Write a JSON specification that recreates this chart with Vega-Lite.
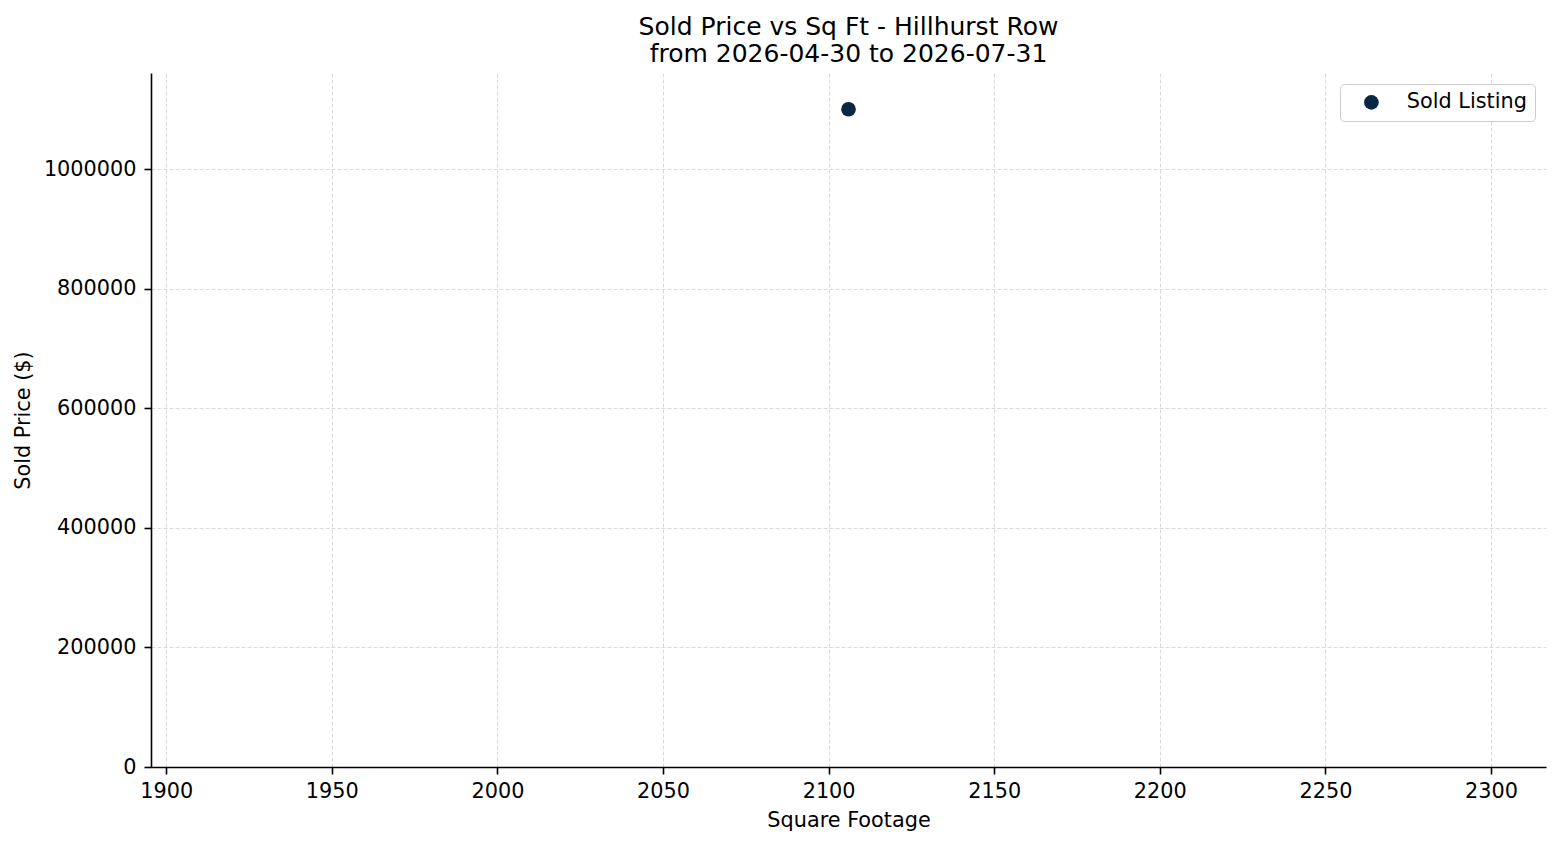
{
  "$schema": "https://vega.github.io/schema/vega-lite/v6.json",
  "width": 1395,
  "height": 694,
  "autosize": "none",
  "padding": {"left": 151, "top": 73, "right": 14, "bottom": 78},
  "background": "white",
  "title": {
    "text": ["Sold Price vs Sq Ft - Hillhurst Row", "from 2026-04-30 to 2026-07-31"],
    "anchor": "middle",
    "font": "DejaVu Sans",
    "fontSize": 25,
    "fontWeight": "normal",
    "color": "black",
    "lineHeight": 27,
    "offset": 6
  },
  "data": {
    "values": [
      {"sqft": 2106, "price": 1100000, "type": "Sold Listing"}
    ]
  },
  "mark": {"type": "circle", "size": 215, "opacity": 1},
  "encoding": {
    "x": {
      "field": "sqft",
      "type": "quantitative",
      "title": "Square Footage",
      "scale": {"domain": [1895.4, 2316.6], "nice": false, "zero": false},
      "axis": {"values": [1900, 1950, 2000, 2050, 2100, 2150, 2200, 2250, 2300], "format": "d"}
    },
    "y": {
      "field": "price",
      "type": "quantitative",
      "title": "Sold Price ($)",
      "scale": {"domain": [0, 1160700], "nice": false},
      "axis": {"values": [0, 200000, 400000, 600000, 800000, 1000000], "format": "d"}
    },
    "color": {
      "field": "type",
      "type": "nominal",
      "scale": {"range": ["#0b2545"]},
      "legend": {"title": null, "orient": "none", "legendX": 1189, "legendY": 11}
    }
  },
  "config": {
    "view": {"stroke": null},
    "axis": {
      "domainColor": "black",
      "domainWidth": 1.6,
      "tickColor": "black",
      "tickWidth": 1.6,
      "tickSize": 7,
      "labelFont": "DejaVu Sans",
      "labelFontSize": 20.8,
      "labelColor": "black",
      "titleFont": "DejaVu Sans",
      "titleFontSize": 20.8,
      "titleFontWeight": "normal",
      "titleColor": "black",
      "gridColor": "#d0d0d0",
      "gridDash": [4, 2],
      "gridWidth": 0.8
    },
    "axisX": {"labelPadding": 7, "titlePadding": 10},
    "axisY": {"labelPadding": 8, "titlePadding": 10},
    "legend": {
      "padding": 8,
      "strokeColor": "#cccccc",
      "fillColor": "white",
      "cornerRadius": 4,
      "symbolType": "circle",
      "symbolSize": 215,
      "symbolOffset": 13,
      "symbolOpacity": 1,
      "symbolStrokeWidth": 0,
      "labelOffset": 25,
      "labelFont": "DejaVu Sans",
      "labelFontSize": 20.8,
      "labelColor": "black"
    }
  }
}
